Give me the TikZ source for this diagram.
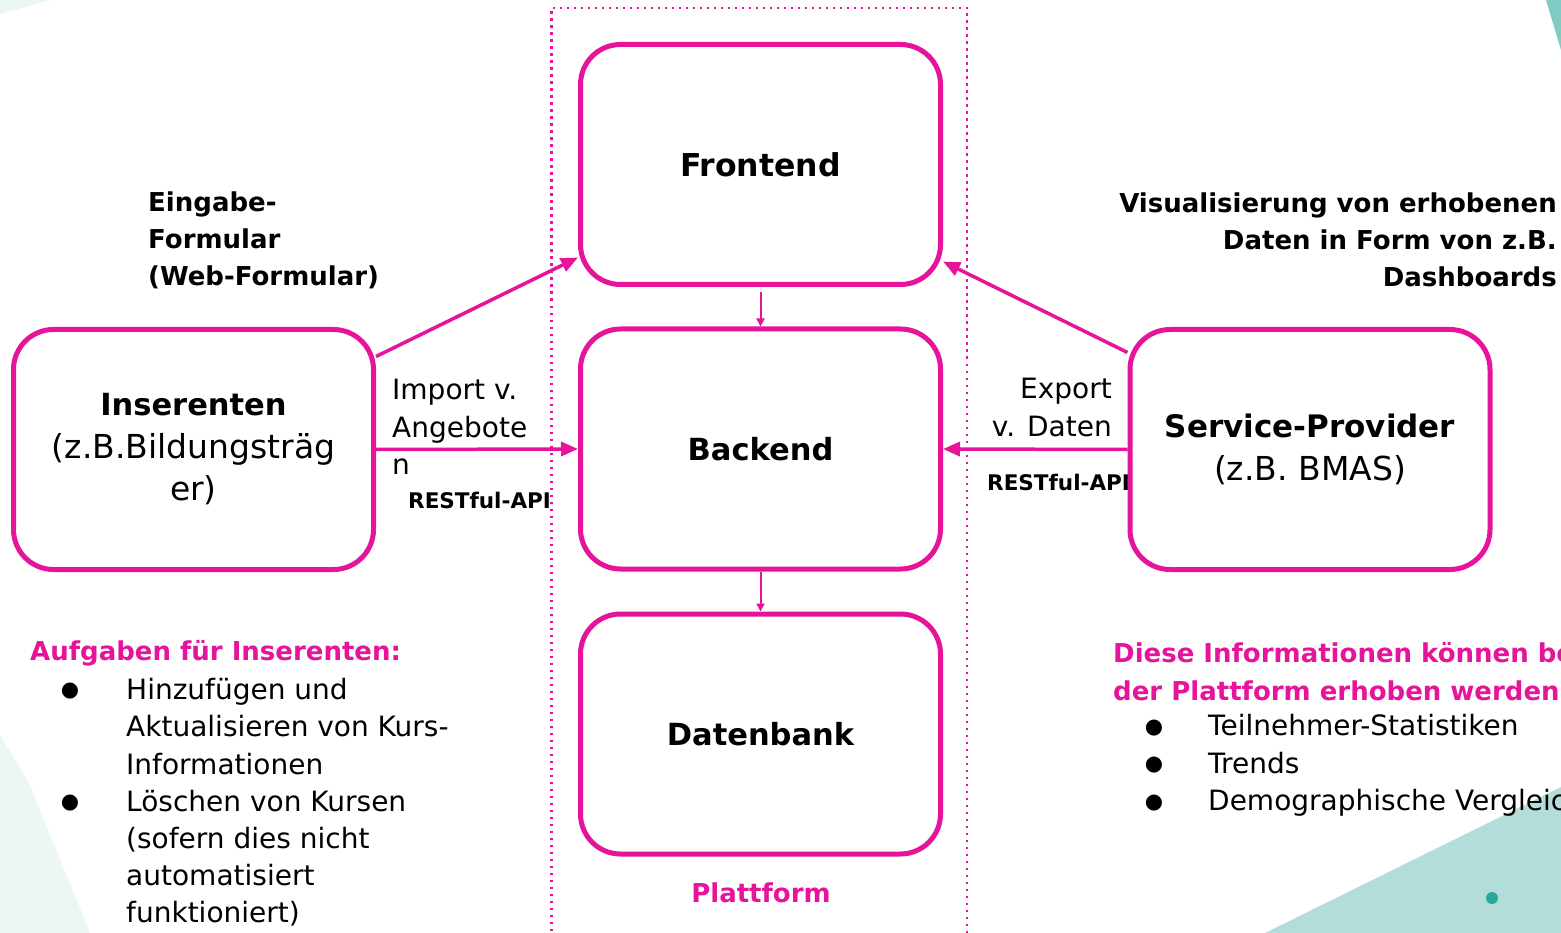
\documentclass[tikz,border=0pt]{standalone}
\usepackage{fontspec}
\setmainfont{DejaVu Sans}
\usetikzlibrary{arrows.meta}
\definecolor{mag}{HTML}{E6149A}
\definecolor{tealdark}{HTML}{7FCCC4}
\definecolor{tealmid}{HTML}{B2DDD9}
\definecolor{teallight}{HTML}{EBF6F5}
\definecolor{tealdot}{HTML}{2AA89C}
\tikzset{
  box/.style={draw=mag, line width=5pt, rounded corners=40pt, minimum width=360pt,
    minimum height=240pt, inner sep=0pt, align=center, fill=white},
  conn/.style={draw=mag, line width=3.5pt, -{Triangle[length=17pt,width=14pt]}},
  thinconn/.style={draw=mag, line width=2pt, -{Triangle[length=8pt,width=8pt]}},
  lbl/.style={inner sep=0pt, text=black},
  boldlbl/.style={lbl, font=\fontsize{26}{37}\selectfont\bfseries},
  reglbl/.style={lbl, font=\fontsize{28}{37.5}\selectfont},
  apilbl/.style={lbl, font=\fontsize{21.5}{26}\selectfont\bfseries},
  bul/.style={lbl, font=\fontsize{21}{24}\selectfont},
}
\begin{document}
\begin{tikzpicture}[x=1pt,y=-1pt]
\useasboundingbox (0,0) rectangle (1561,933);
\fill[white] (0,0) rectangle (1561,933);
% background decorations
\fill[teallight] (0,0) -- (50,0) -- (0,14) -- cycle;
\fill[tealdark] (1546,0) -- (1561,0) -- (1561,50) -- cycle;
\fill[teallight] (0,735) -- (30,785) -- (90,933) -- (0,933) -- cycle;
\fill[tealmid] (1265,933) -- (1561,787) -- (1561,933) -- cycle;
\fill[tealdot] (1492,898) circle (6);
% platform frame
\draw[mag, line width=2.5pt, dash pattern=on 2.5pt off 4.5pt] (967,940) -- (967,8) -- (551.5,8) -- (551.5,940);
% boxes
\node[box] (front) at (760.5,164.5) {\fontsize{31.5}{40}\selectfont\bfseries Frontend};
\node[box] (back) at (760.5,449) {\fontsize{30.5}{40}\selectfont\bfseries Backend};
\node[box] (db) at (760.5,734) {\fontsize{30.5}{40}\selectfont\bfseries Datenbank};
\node[box, font=\fontsize{33}{42.5}\selectfont] (ins) at (193.5,449.5)
  {{\fontsize{30.5}{42.5}\selectfont\bfseries Inserenten}\\(z.B.Bildungsträg\\er)};
\node[box, font=\fontsize{33}{43}\selectfont] (sp) at (1310,449.5)
  {{\fontsize{31}{43}\selectfont\bfseries Service-Provider}\\(z.B. BMAS)};
% connectors
\draw[conn] (ins.27) -- (front.207);
\draw[conn] (ins.east) -- (back.west);
\draw[conn] (sp.152) -- (front.332);
\draw[conn] (sp.west) -- (back.east);
\draw[thinconn, shorten <=5pt] (front.south) -- (back.north);
\draw[thinconn] (back.south) -- (db.north);
% labels
\node[boldlbl, anchor=west, align=left] (eing) at (148,240) {Eingabe-\\Formular\\(Web-Formular)};
\node[boldlbl, anchor=east, align=right] (visu) at (1557,240) {Visualisierung von erhobenen\\Daten in Form von z.B.\\Dashboards};
\node[reglbl, anchor=west, align=left] (imp) at (392,427) {Import v.\\Angebote\\n};
\node[reglbl, anchor=east, align=right] (exp) at (1112,407.5) {Export\\v. Daten};
\node[apilbl, anchor=west] (api1) at (408,500) {RESTful-API};
\node[apilbl, anchor=west] (api2) at (987,482) {RESTful-API};
\node[boldlbl, text=mag] (plat) at (761,893) {Plattform};
% left task list
\node[boldlbl, text=mag, anchor=west] (aufg) at (30,653) {Aufgaben für Inserenten:};
\node[reglbl, anchor=west, align=left, font=\fontsize{28}{37.2}\selectfont] (ltasks) at (126,802.5)
  {Hinzufügen und\\Aktualisieren von Kurs-\\Informationen\\Löschen von Kursen\\(sofern dies nicht\\automatisiert\\funktioniert)};
\node[bul] (lb1) at (70,691) {●};
\node[bul] (lb2) at (70,803) {●};
% right info list
\node[boldlbl, text=mag, anchor=west, align=left, font=\fontsize{26}{38}\selectfont\bfseries] (info) at (1113,672)
  {Diese Informationen können bei\\der Plattform erhoben werden:};
\node[reglbl, anchor=west, align=left] (rlist) at (1208,765.5)
  {Teilnehmer-Statistiken\\Trends\\Demographische Vergleiche};
\node[bul] (rb1) at (1154,728) {●};
\node[bul] (rb2) at (1154,765.5) {●};
\node[bul] (rb3) at (1154,803) {●};
\end{tikzpicture}
\end{document}
